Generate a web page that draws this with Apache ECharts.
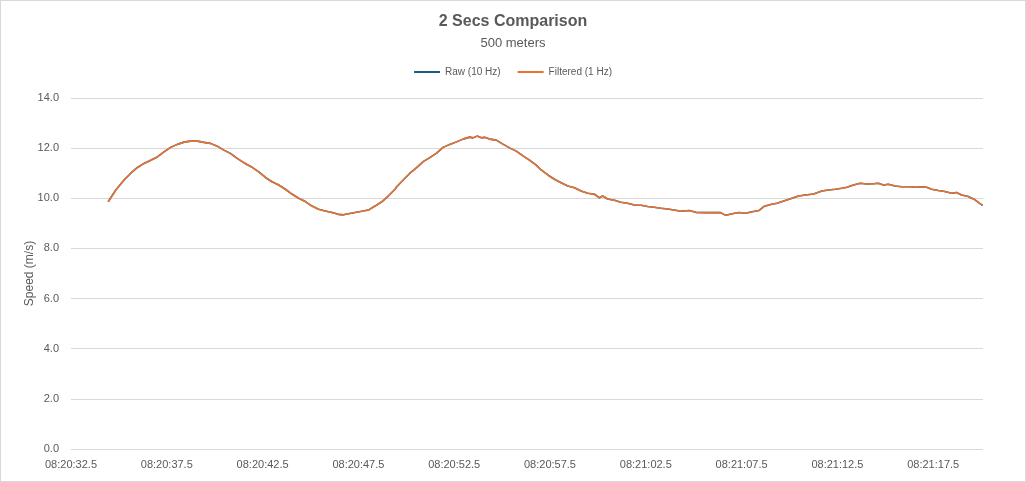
<!DOCTYPE html>
<html>
<head>
<meta charset="utf-8">
<script src="https://cdn.jsdelivr.net/npm/echarts@6/dist/echarts.min.js"></script>
<style>
html,body{margin:0;padding:0;background:#fff;}
#chart{width:1026px;height:482px;box-sizing:border-box;border:1px solid #d9d9d9;}
</style>
</head>
<body>
<div id="chart"></div>
<script>
// Seconds elapsed since 08:20:32.5
const startClock = 30032.5; // 08:20:32.5 in seconds of day
const seconds = [1.94,2.34,2.77,3.12,3.47,3.81,4.16,4.51,4.85,5.20,5.55,5.90,6.24,6.59,6.94,7.28,7.63,7.98,8.32,8.67,9.02,9.40,
  9.80,10.15,10.49,10.84,11.19,11.53,11.88,12.23,12.58,12.92,13.27,13.62,13.96,14.22,14.48,14.83,15.18,15.52,15.87,16.22,16.56,16.91,
  17.00,17.34,17.69,18.04,18.38,18.73,19.08,19.42,19.77,20.12,20.46,20.81,20.98,21.19,21.42,21.59,21.85,22.20,22.54,22.89,23.24,23.59,23.93,24.28,
  24.54,24.89,25.23,25.58,25.93,26.28,26.62,26.97,27.32,27.58,27.75,28.01,28.36,28.70,29.05,29.40,29.75,30.09,30.44,30.79,31.13,31.48,31.83,
  32.26,32.61,33.13,33.47,33.91,34.17,34.51,34.86,35.21,35.55,35.90,36.16,36.51,36.85,37.20,37.63,37.98,38.33,38.76,39.19,
  39.54,39.89,40.23,40.50,40.84,41.19,41.54,41.88,42.14,42.40,42.66,43.01,43.36,43.79,44.14,44.31,44.66,44.92,45.27,45.61,45.96,46.22,46.48,46.83,47.18,47.43,47.58];
const rawSpeed = [9.86,10.33,10.73,11.00,11.23,11.39,11.52,11.65,11.85,12.03,12.15,12.24,12.28,12.28,12.23,12.19,12.08,11.92,11.79,11.59,11.42,11.26,
  11.05,10.83,10.66,10.53,10.36,10.17,10.00,9.87,9.69,9.56,9.49,9.43,9.36,9.34,9.38,9.43,9.48,9.53,9.69,9.86,10.09,10.36,
  10.46,10.73,11.00,11.22,11.46,11.62,11.80,12.03,12.15,12.25,12.36,12.44,12.41,12.48,12.41,12.43,12.36,12.32,12.16,12.01,11.88,11.69,11.52,11.32,
  11.13,10.93,10.76,10.62,10.49,10.42,10.29,10.20,10.16,10.02,10.09,9.97,9.92,9.84,9.80,9.73,9.72,9.67,9.64,9.60,9.57,9.53,9.48,
  9.51,9.44,9.43,9.43,9.43,9.32,9.38,9.43,9.40,9.46,9.51,9.67,9.75,9.80,9.89,10.00,10.09,10.13,10.17,10.29,
  10.33,10.36,10.40,10.44,10.53,10.60,10.57,10.58,10.60,10.53,10.56,10.49,10.46,10.46,10.44,10.46,10.44,10.36,10.31,10.27,10.20,10.23,10.13,10.07,9.94,9.80,9.72];
const filteredSpeed = rawSpeed.slice();
const yTicks = [0, 2, 4, 6, 8, 10, 12, 14];

function clock(t) {
  const total = startClock + t;
  const h = Math.floor(total / 3600);
  const m = Math.floor((total - h * 3600) / 60);
  const s = total - h * 3600 - m * 60;
  const p2 = n => String(n).padStart(2, '0');
  const sStr = s.toFixed(1).padStart(4, '0');
  return p2(h) + ':' + p2(m) + ':' + sStr;
}

const rawData = seconds.map((t, i) => [t, rawSpeed[i]]);
const filtData = seconds.map((t, i) => [t, filteredSpeed[i]]);

const chart = echarts.init(document.getElementById('chart'), null, {renderer: 'canvas'});
const txt = '#595959';
const font = 'Liberation Sans, Arial, sans-serif';
chart.setOption({
  animation: false,
  textStyle: {fontFamily: font},
  title: {
    text: '2 Secs Comparison',
    subtext: '500 meters',
    left: 'center',
    top: 8,
    itemGap: 7,
    textStyle: {fontSize: 16, fontWeight: 'bold', color: txt, fontFamily: font},
    subtextStyle: {fontSize: 13, color: txt, fontFamily: font}
  },
  legend: {
    top: 61,
    left: 'center',
    itemWidth: 26,
    itemHeight: 2,
    itemGap: 17,
    icon: 'rect',
    textStyle: {fontSize: 10, color: txt, fontFamily: font},
    data: ['Raw (10 Hz)', 'Filtered (1 Hz)']
  },
  grid: {left: 70, right: 42, top: 97, bottom: 32},
  xAxis: {
    type: 'value',
    min: 0,
    max: 47.6,
    interval: 5,
    axisLine: {show: false},
    axisTick: {show: false},
    splitLine: {show: false},
    axisLabel: {
      color: txt, fontSize: 11, margin: 10, showMaxLabel: false,
      formatter: v => clock(v)
    }
  },
  yAxis: {
    type: 'value',
    min: yTicks[0],
    max: yTicks[yTicks.length - 1],
    interval: 2,
    name: 'Speed (m/s)',
    nameLocation: 'middle',
    nameGap: 35,
    nameMoveOverlap: false,
    nameTextStyle: {color: txt, fontSize: 12, fontFamily: font},
    axisLine: {show: false},
    axisTick: {show: false},
    splitLine: {lineStyle: {color: '#d9d9d9', width: 1}},
    axisLabel: {color: txt, fontSize: 11, margin: 12, formatter: v => v.toFixed(1)}
  },
  series: [
    {
      name: 'Raw (10 Hz)', type: 'line', data: rawData, showSymbol: false, symbol: 'none',
      lineStyle: {color: '#156082', width: 1.6}, itemStyle: {color: '#156082'}
    },
    {
      name: 'Filtered (1 Hz)', type: 'line', data: filtData, showSymbol: false, symbol: 'none',
      lineStyle: {color: '#E97132', width: 1.6}, itemStyle: {color: '#E97132'}
    }
  ]
});
</script>
</body>
</html>
